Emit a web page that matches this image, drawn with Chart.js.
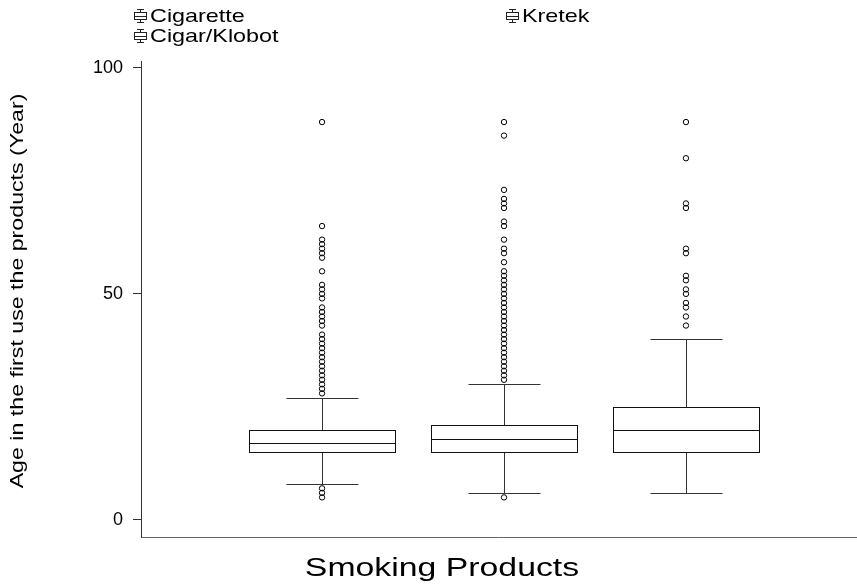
<!DOCTYPE html>
<html>
<head>
<meta charset="utf-8">
<script src="https://cdn.jsdelivr.net/npm/chart.js@4.4.1/dist/chart.umd.min.js"></script>
<style>
  html, body { margin: 0; padding: 0; background: #ffffff; }
  #wrap { width: 857px; height: 588px; position: relative; }
</style>
</head>
<body>
<div id="wrap"><canvas id="c" width="857" height="588"></canvas></div>
<script>
// ---- data ----
const categories = ['Cigarette', 'Cigar/Klobot', 'Kretek'];
const whiskerLow  = [8, 6, 6];
const q1          = [15, 15, 15];
const median      = [17, 18, 20];
const q3          = [20, 21, 25];
const whiskerHigh = [27, 30, 40];
const outliersCigarette = [88, 65, 62, 61, 60, 59, 58, 55, 52, 51, 50, 49, 47, 46, 45, 44, 43, 41, 40, 39, 38, 37, 36, 35, 34, 33, 32, 31, 30, 29, 28, 7, 6, 5];
const outliersCigar = [88, 85, 73, 71, 70, 69, 66, 65, 62, 60, 59, 57, 55, 54, 53, 52, 51, 50, 49, 48, 47, 46, 45, 44, 43, 42, 41, 40, 39, 38, 37, 36, 35, 34, 33, 32, 31, 5];
const outliersKretek = [88, 80, 70, 69, 60, 59, 54, 53, 51, 50, 48, 47, 45, 43];
const yTicks = [0, 50, 100];
const xTitle = 'Smoking Products';
const yTitle = 'Age in the first use the products (Year)';

const FONT = "'Liberation Sans', Arial, sans-serif";
const outlierSets = [outliersCigarette, outliersCigar, outliersKretek];

function crisp(v) { return Math.round(v) + 0.5; }

// draw text stretched horizontally (along its baseline)
function stretchedText(ctx, text, x, y, sx, align) {
  ctx.save();
  ctx.translate(x, y);
  ctx.scale(sx, 1);
  ctx.textAlign = align;
  ctx.fillText(text, 0, 0);
  ctx.restore();
}

const boxPlugin = {
  id: 'boxes',
  beforeDatasetsDraw(chart) {
    const ctx = chart.ctx;
    const xs = chart.scales.x, ys = chart.scales.y;
    ctx.save();
    ctx.lineWidth = 1;
    categories.forEach((c, i) => {
      const xc = i + 1;
      const xl = crisp(xs.getPixelForValue(xc - 0.4));
      const xr = crisp(xs.getPixelForValue(xc + 0.4));
      const xm = crisp(xs.getPixelForValue(xc));
      const cl = crisp(xs.getPixelForValue(xc - 0.2));
      const cr = crisp(xs.getPixelForValue(xc + 0.2));
      const yq1 = crisp(ys.getPixelForValue(q1[i]));
      const yq3 = crisp(ys.getPixelForValue(q3[i]));
      const ymed = crisp(ys.getPixelForValue(median[i]));
      const ylo = crisp(ys.getPixelForValue(whiskerLow[i]));
      const yhi = crisp(ys.getPixelForValue(whiskerHigh[i]));
      ctx.strokeStyle = '#333';
      ctx.beginPath();
      ctx.moveTo(xm, yq3); ctx.lineTo(xm, yhi);
      ctx.moveTo(cl, yhi); ctx.lineTo(cr, yhi);
      ctx.moveTo(xm, yq1); ctx.lineTo(xm, ylo);
      ctx.moveTo(cl, ylo); ctx.lineTo(cr, ylo);
      ctx.stroke();
      ctx.fillStyle = '#fff';
      ctx.fillRect(xl, yq3, xr - xl, yq1 - yq3);
      ctx.strokeStyle = '#111';
      ctx.strokeRect(xl, yq3, xr - xl, yq1 - yq3);
      ctx.beginPath();
      ctx.moveTo(xl, ymed); ctx.lineTo(xr, ymed);
      ctx.stroke();
    });
    ctx.restore();
  }
};

function drawIcon(ctx, x, y) {
  // small boxplot glyph centred at (x, y)
  ctx.save();
  ctx.strokeStyle = '#222';
  ctx.lineWidth = 1;
  ctx.beginPath();
  ctx.moveTo(x - 3, y - 6.5); ctx.lineTo(x + 4, y - 6.5);
  ctx.moveTo(x + 0.5, y - 6.5); ctx.lineTo(x + 0.5, y - 3.5);
  ctx.moveTo(x + 0.5, y + 3.5); ctx.lineTo(x + 0.5, y + 6.5);
  ctx.moveTo(x - 3, y + 6.5); ctx.lineTo(x + 4, y + 6.5);
  ctx.stroke();
  ctx.strokeRect(x - 5.5, y - 3.5, 12, 7);
  ctx.beginPath();
  ctx.moveTo(x - 5.5, y + 0.5); ctx.lineTo(x + 6.5, y + 0.5);
  ctx.stroke();
  ctx.restore();
}

const textPlugin = {
  id: 'texts',
  afterDraw(chart) {
    const ctx = chart.ctx;
    ctx.save();
    ctx.fillStyle = '#000';
    ctx.textBaseline = 'middle';
    // legend
    ctx.font = '19px ' + FONT;
    const legendPos = [[140, 16], [140, 36], [512, 16]];
    categories.forEach((c, i) => {
      const [lx, ly] = legendPos[i];
      drawIcon(ctx, lx, ly);
      stretchedText(ctx, c, lx + 10, ly + 1, 1.23, 'left');
    });
    // x title
    ctx.font = '26px ' + FONT;
    stretchedText(ctx, xTitle, 442, 569, 1.3, 'center');
    // y title
    ctx.font = '19px ' + FONT;
    ctx.save();
    ctx.translate(18, 291);
    ctx.rotate(-Math.PI / 2);
    stretchedText(ctx, yTitle, 0, 0, 1.22, 'center');
    ctx.restore();
    ctx.restore();
  }
};

const datasets = outlierSets.map((arr, i) => ({
  label: categories[i],
  data: arr.map(v => ({ x: i + 1, y: v })),
  pointStyle: 'circle',
  pointRadius: 2.7,
  pointBorderWidth: 1,
  pointBorderColor: '#000',
  pointBackgroundColor: 'rgba(255,255,255,0)',
  showLine: false
}));

new Chart(document.getElementById('c'), {
  type: 'scatter',
  data: { datasets },
  options: {
    responsive: false,
    animation: false,
    events: [],
    layout: { autoPadding: false, padding: { left: 0, right: 0, top: 61, bottom: 0 } },
    plugins: { legend: { display: false }, tooltip: { enabled: false } },
    scales: {
      x: {
        type: 'linear',
        min: 0.005,
        max: 3.94,
        ticks: { display: false },
        grid: { display: false },
        border: { display: true, color: '#666', width: 1 },
        afterFit: s => { s.height = 51; s.paddingLeft = 0; s.paddingRight = 0; }
      },
      y: {
        type: 'linear',
        min: -3.76,
        max: 101.5,
        afterBuildTicks: s => { s.ticks = yTicks.map(v => ({ value: v })); },
        ticks: { color: '#000', font: { family: FONT, size: 18 }, padding: 10 },
        grid: { display: true, drawOnChartArea: false, drawTicks: true, tickLength: 8, color: '#333' },
        border: { display: true, color: '#333', width: 1 },
        afterFit: s => { s.width = 141; s.paddingTop = 0; s.paddingBottom = 0; }
      }
    }
  },
  plugins: [boxPlugin, textPlugin]
});
</script>
</body>
</html>
